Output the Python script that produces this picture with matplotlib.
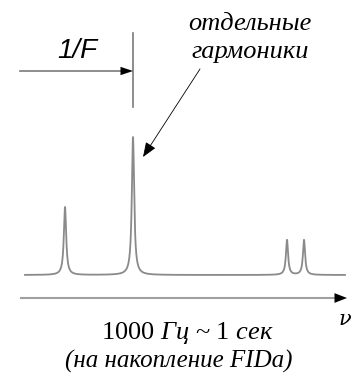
import numpy as np
import matplotlib.pyplot as plt

# peaks of the spectrum (pixel-like units, y grows downward)
peak_pos = [65, 133, 287, 304]
peak_height = [68, 138, 35, 35]
peak_hwhm = [1.4, 1.4, 1.3, 1.3]
baseline = 275
x_start, x_end = 25, 345

label_top = 'отдельные\nгармоники'
label_period = '1/F'
label_bottom1 = '1000 $\\it{Гц}$ ~ 1 $\\it{сек}$'
label_bottom2 = '(на накопление FIDa)'

plt.rcParams['mathtext.fontset'] = 'custom'
plt.rcParams['mathtext.it'] = 'Liberation Serif:italic'
plt.rcParams['mathtext.rm'] = 'Liberation Serif'

fig = plt.figure(figsize=(3.54, 3.79), dpi=100)
ax = fig.add_axes([0, 0, 1, 1])
ax.set_xlim(0, 354)
ax.set_ylim(379, 0)
ax.axis('off')

x = np.linspace(x_start, x_end, 4000)
y = np.zeros_like(x)
for p, h, w in zip(peak_pos, peak_height, peak_hwhm):
    y += h * w**2 / ((x - p)**2 + w**2)
ax.plot(x, baseline - y, color='#8a8a8a', lw=1.3)

# frequency axis
ax.annotate('', xy=(347, 298), xytext=(21, 298),
            arrowprops=dict(arrowstyle='-|>,head_length=0.9,head_width=0.35',
                            color='black', lw=0, shrinkA=0, shrinkB=0))
ax.plot([21, 336], [298, 298], color='#a0a0a0', lw=1.5)
ax.text(339, 310, 'ν', fontsize=15, family='DejaVu Serif', style='italic',
        ha='left', va='top')

# 1/F marker
ax.plot([133, 133], [33, 107], color='#7a7a7a', lw=1.2)
ax.plot([20, 122], [71, 71], color='#7a7a7a', lw=1.2)
ax.annotate('', xy=(133, 71), xytext=(118, 71),
            arrowprops=dict(arrowstyle='-|>,head_length=0.9,head_width=0.3',
                            color='black', lw=0, shrinkA=0, shrinkB=0))
ax.text(77, 51, label_period, fontsize=20, family='Liberation Sans',
        style='italic', ha='center', va='center')

# harmonics label and pointer
ax.text(250, 38, label_top, fontsize=19, family='Liberation Serif',
        style='italic', ha='center', va='center', linespacing=1.3)
ax.annotate('', xy=(143, 157), xytext=(200, 69),
            arrowprops=dict(arrowstyle='-|>,head_length=0.9,head_width=0.35',
                            color='black', lw=0.6, shrinkA=0, shrinkB=0))

# bottom labels
ax.text(187, 333, label_bottom1, fontsize=19, family='Liberation Serif',
        ha='center', va='center')
ax.text(179, 361, label_bottom2, fontsize=18, family='Liberation Serif',
        style='italic', ha='center', va='center')

fig.savefig('out.png', dpi=100)
